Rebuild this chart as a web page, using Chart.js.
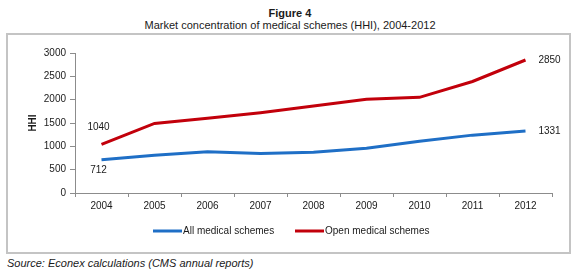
<!DOCTYPE html>
<html>
<head>
<meta charset="utf-8">
<script src="https://cdn.jsdelivr.net/npm/chart.js@4"></script>
<style>
  html, body { margin: 0; padding: 0; background: #fff; }
  body { width: 580px; height: 272px; position: relative; overflow: hidden; font-family: "Liberation Sans", Arial, sans-serif; color: #1a1a1a; }
  #t1 { position: absolute; left: 0; width: 580px; top: 7px; text-align: center; font-weight: bold; font-size: 11px; line-height: 13px; }
  #t2 { position: absolute; left: 0; width: 580px; top: 19px; text-align: center; font-size: 11px; line-height: 13px; }
  #frame { position: absolute; left: 6px; top: 33px; width: 565px; height: 221px; box-sizing: border-box; border: 2px solid #c4c4c4; }
  #src { position: absolute; left: 7px; top: 257px; font-size: 11px; font-style: italic; line-height: 13px; }
  #c { position: absolute; left: 0; top: 0; }
</style>
</head>
<body>
<div id="t1">Figure 4</div>
<div id="t2">Market concentration of medical schemes (HHI), 2004-2012</div>
<div id="frame"></div>
<div id="src">Source: Econex calculations (CMS annual reports)</div>
<canvas id="c" width="580" height="272"></canvas>
<script>
const years = ["2004", "2005", "2006", "2007", "2008", "2009", "2010", "2011", "2012"];
const allSchemes = [712, 810, 885, 848, 873, 960, 1110, 1240, 1331];
const openSchemes = [1040, 1490, 1600, 1720, 1865, 2010, 2050, 2390, 2850];
const seriesNames = ["All medical schemes", "Open medical schemes"];
const yTicks = [0, 500, 1000, 1500, 2000, 2500, 3000];
const labelledPoints = [0, 8];

const FONT = '"Liberation Sans", Arial, sans-serif';
const TEXT = '#1a1a1a';

const pointLabels = {
  id: 'pointLabels',
  afterDatasetsDraw(chart) {
    const ctx = chart.ctx;
    const x = chart.scales.x, y = chart.scales.y;
    ctx.save();
    ctx.font = '10px ' + FONT;
    ctx.fillStyle = TEXT;
    ctx.textAlign = 'center';
    ctx.textBaseline = 'middle';
    chart.data.datasets.forEach((ds, di) => {
      labelledPoints.forEach(i => {
        const px = x.getPixelForValue(i);
        const py = y.getPixelForValue(ds.data[i]);
        let lx, ly;
        if (i === 0) {
          lx = px - 3;
          ly = di === 1 ? py - 17 : py + 10;
        } else {
          lx = px + 24;
          ly = py;
        }
        ctx.fillText(String(ds.data[i]), lx, ly);
      });
    });
    ctx.restore();
  }
};

const lineLegend = {
  id: 'lineLegend',
  afterDraw(chart) {
    const ctx = chart.ctx;
    ctx.save();
    ctx.font = '10px ' + FONT;
    ctx.textBaseline = 'middle';
    ctx.textAlign = 'left';
    const starts = [153, 295];
    const yy = 231;
    chart.data.datasets.forEach((ds, di) => {
      const sx = starts[di];
      ctx.strokeStyle = ds.borderColor;
      ctx.lineWidth = 3;
      ctx.beginPath();
      ctx.moveTo(sx, yy);
      ctx.lineTo(sx + 29, yy);
      ctx.stroke();
      ctx.fillStyle = TEXT;
      ctx.fillText(ds.label, sx + 30, yy);
    });
    ctx.restore();
  }
};

new Chart(document.getElementById('c'), {
  type: 'line',
  data: {
    labels: years,
    datasets: [
      { label: seriesNames[0], data: allSchemes, borderColor: '#1f6fc6', backgroundColor: '#1f6fc6', borderWidth: 3, pointRadius: 0, tension: 0 },
      { label: seriesNames[1], data: openSchemes, borderColor: '#c2000b', backgroundColor: '#c2000b', borderWidth: 3, pointRadius: 0, tension: 0 }
    ]
  },
  options: {
    responsive: false,
    animation: false,
    devicePixelRatio: 1,
    layout: { padding: { left: 0, top: 53, right: 28, bottom: 0 } },
    plugins: { legend: { display: false }, tooltip: { enabled: false }, title: { display: false } },
    scales: {
      x: {
        offset: true,
        grid: { display: true, offset: true, drawOnChartArea: false, drawTicks: true, tickLength: 4, color: '#8c8c8c' },
        border: { display: true, color: '#8c8c8c', width: 1 },
        ticks: { font: { family: FONT, size: 10 }, color: TEXT, padding: 3, maxRotation: 0 },
        afterFit(s) { s.height = 79; }
      },
      y: {
        min: 0, max: 3000,
        afterBuildTicks(s) { s.ticks = yTicks.map(v => ({ value: v })); },
        grid: { display: true, drawOnChartArea: false, drawTicks: true, tickLength: 5, color: '#8c8c8c' },
        border: { display: true, color: '#8c8c8c', width: 1 },
        ticks: { font: { family: FONT, size: 10 }, color: TEXT, padding: 4, callback: v => String(v) },
        title: { display: true, text: 'HHI', font: { family: FONT, size: 10, weight: 'bold' }, color: TEXT, padding: { top: 27, bottom: 0 } },
        afterFit(s) { s.width = 75; }
      }
    }
  },
  plugins: [pointLabels, lineLegend]
});
</script>
</body>
</html>
